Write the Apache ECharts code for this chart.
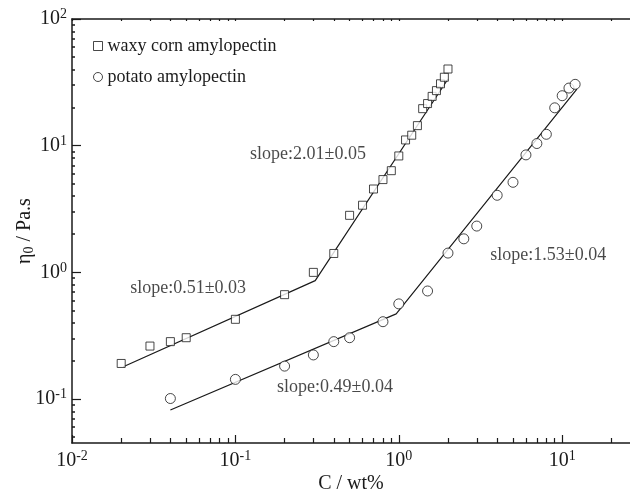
<!DOCTYPE html>
<html>
<head>
<meta charset="utf-8">
<script src="https://cdn.jsdelivr.net/npm/echarts@6/dist/echarts.min.js"></script>
<style>
  html, body { margin: 0; padding: 0; background: #fff; }
  #chart { width: 630px; height: 495px; }
</style>
</head>
<body>
<div id="chart"></div>
<script>
// measured data (C in wt%, eta0 in Pa.s)
const waxyC   = [0.02, 0.03, 0.04, 0.05, 0.1, 0.2, 0.3, 0.4, 0.5, 0.6, 0.7, 0.8, 0.9, 1.0, 1.1, 1.2, 1.3, 1.4, 1.5, 1.6, 1.7, 1.8, 1.9, 2.0];
const waxyEta = [0.191, 0.262, 0.284, 0.305, 0.426, 0.667, 1.0, 1.41, 2.82, 3.39, 4.55, 5.4, 6.35, 8.3, 11.1, 12.1, 14.4, 19.6, 21.5, 24.5, 27.2, 30.8, 34.7, 40.3];
const potatoC   = [0.04, 0.1, 0.2, 0.3, 0.4, 0.5, 0.8, 1.0, 1.5, 2.0, 2.5, 3.0, 4.0, 5.0, 6.0, 7.0, 8.0, 9.0, 10, 11, 12];
const potatoEta = [0.101, 0.143, 0.182, 0.223, 0.284, 0.305, 0.408, 0.564, 0.713, 1.42, 1.84, 2.32, 4.06, 5.14, 8.46, 10.4, 12.3, 19.9, 24.8, 28.5, 30.5];

// fitted power-law segments (start, break, end)
const waxyFitC   = [0.0206, 0.308, 2.0];
const waxyFitEta = [0.180, 0.861, 33.6];
const potatoFitC   = [0.040, 0.964, 12.3];
const potatoFitEta = [0.082, 0.47, 27.9];

// slope annotations
const noteText = ['slope:2.01\u00b10.05', 'slope:0.51\u00b10.03', 'slope:0.49\u00b10.04', 'slope:1.53\u00b10.04'];
const noteC    = [0.123, 0.0227, 0.18, 3.63];
const noteEta  = [8.6, 0.753, 0.124, 1.37];

// axis ranges and ticks
const xRange = [0.01, 26];
const yRange = [0.045, 100];
const xMajor = [-2, -1, 0, 1];
const yMajor = [-1, 0, 1, 2];
const minorMult = [2, 3, 4, 5, 6, 7, 8, 9];

const lg = v => Math.log10(v);

function minorTicks(range) {
  const lo = lg(range[0]), hi = lg(range[1]);
  const out = [];
  for (let k = Math.floor(lo); k <= Math.ceil(hi); k++) {
    minorMult.forEach(m => {
      const v = k + lg(m);
      if (v >= lo && v <= hi) out.push(v);
    });
  }
  return out;
}

function pairs(xs, ys) {
  return xs.map((x, i) => [lg(x), lg(ys[i])]);
}

const FONT = 'Liberation Serif';
const black = '#1a1a1a';

const powRich = {
  b: { fontFamily: FONT, fontSize: 20, color: black },
  s: { fontFamily: FONT, fontSize: 14, color: black, verticalAlign: 'bottom', padding: [0, 0, 9, 0] }
};
const powFormatter = v => '{b|10}{s|' + Math.round(v) + '}';

function xAxisBase(extra) {
  return Object.assign({
    type: 'value',
    min: lg(xRange[0]),
    max: lg(xRange[1]),
    splitLine: { show: false },
    axisLine: { show: false, onZero: false },
    axisTick: { show: false },
    axisLabel: { show: false }
  }, extra);
}

function yAxisBase(extra) {
  return Object.assign({
    type: 'value',
    min: lg(yRange[0]),
    max: lg(yRange[1]),
    splitLine: { show: false },
    axisLine: { show: false, onZero: false },
    axisTick: { show: false },
    axisLabel: { show: false }
  }, extra);
}

const axisLineOn = { show: true, onZero: false, lineStyle: { color: black, width: 1.5 } };

const chart = echarts.init(document.getElementById('chart'));

const option = {
  backgroundColor: '#fff',
  animation: false,
  grid: { left: 72, right: 0, top: 19, bottom: 52, containLabel: false, outerBoundsMode: 'none' },
  legend: {
    orient: 'vertical',
    left: 88,
    top: 32,
    itemGap: 13,
    itemWidth: 9,
    itemHeight: 9,
    data: ['waxy corn amylopectin', 'potato amylopectin'],
    textStyle: { fontFamily: FONT, fontSize: 18, color: black },
    itemStyle: { color: '#fff', borderColor: black, borderWidth: 1 }
  },
  xAxis: [
    xAxisBase({
      position: 'bottom',
      name: 'C / wt%',
      nameLocation: 'middle',
      nameGap: 31,
      nameMoveOverlap: false,
      nameTextStyle: { fontFamily: FONT, fontSize: 20, color: black },
      axisLine: axisLineOn,
      axisTick: { show: true, inside: true, length: 8, customValues: xMajor, lineStyle: { color: black, width: 1.2 } },
      axisLabel: { show: true, margin: 6, customValues: xMajor, formatter: powFormatter, rich: powRich }
    }),
    xAxisBase({
      position: 'bottom',
      axisTick: { show: true, inside: true, length: 5, customValues: minorTicks(xRange), lineStyle: { color: black, width: 1.2 } }
    }),
    xAxisBase({
      position: 'top',
      axisLine: axisLineOn,
      axisTick: { show: true, inside: true, length: 2, customValues: xMajor.concat(minorTicks(xRange)), lineStyle: { color: black, width: 1.2 } }
    })
  ],
  yAxis: [
    yAxisBase({
      position: 'left',
      name: '{a|\u03b7}{sub|0}{a| / Pa.s}',
      nameLocation: 'middle',
      nameGap: 36,
      nameMoveOverlap: false,
      nameTextStyle: {
        rich: {
          a: { fontFamily: FONT, fontSize: 20, color: black },
          sub: { fontFamily: FONT, fontSize: 14, color: black, verticalAlign: 'top', padding: [8, 0, 0, 0] }
        }
      },
      axisLine: axisLineOn,
      axisTick: { show: true, inside: true, length: 9, customValues: yMajor, lineStyle: { color: black, width: 1.2 } },
      axisLabel: { show: true, margin: 5, customValues: yMajor, formatter: powFormatter, rich: powRich }
    }),
    yAxisBase({
      position: 'left',
      axisTick: { show: true, inside: true, length: 3, customValues: minorTicks(yRange), lineStyle: { color: black, width: 1.5 } }
    })
  ],
  series: [
    {
      name: 'waxy corn amylopectin',
      type: 'scatter',
      symbol: 'rect',
      symbolSize: 8,
      itemStyle: { color: '#fff', borderColor: black, borderWidth: 1 },
      data: pairs(waxyC, waxyEta),
      z: 3
    },
    {
      name: 'potato amylopectin',
      type: 'scatter',
      symbol: 'circle',
      symbolSize: 10,
      itemStyle: { color: '#fff', borderColor: black, borderWidth: 1 },
      data: pairs(potatoC, potatoEta),
      z: 3
    },
    {
      name: 'waxy fit',
      type: 'line',
      showSymbol: false,
      lineStyle: { color: black, width: 1.2 },
      data: pairs(waxyFitC, waxyFitEta),
      z: 2
    },
    {
      name: 'potato fit',
      type: 'line',
      showSymbol: false,
      lineStyle: { color: black, width: 1.2 },
      data: pairs(potatoFitC, potatoFitEta),
      z: 2
    },
    {
      name: 'notes',
      type: 'scatter',
      symbolSize: 0,
      silent: true,
      label: {
        show: true,
        position: 'right',
        distance: 0,
        formatter: p => p.name,
        fontFamily: FONT,
        fontSize: 18,
        color: black
      },
      data: noteText.map((t, i) => ({ name: t, value: [lg(noteC[i]), lg(noteEta[i])] })),
      z: 4
    }
  ]
};

chart.setOption(option);
window.addEventListener('resize', () => chart.resize());
</script>
</body>
</html>
